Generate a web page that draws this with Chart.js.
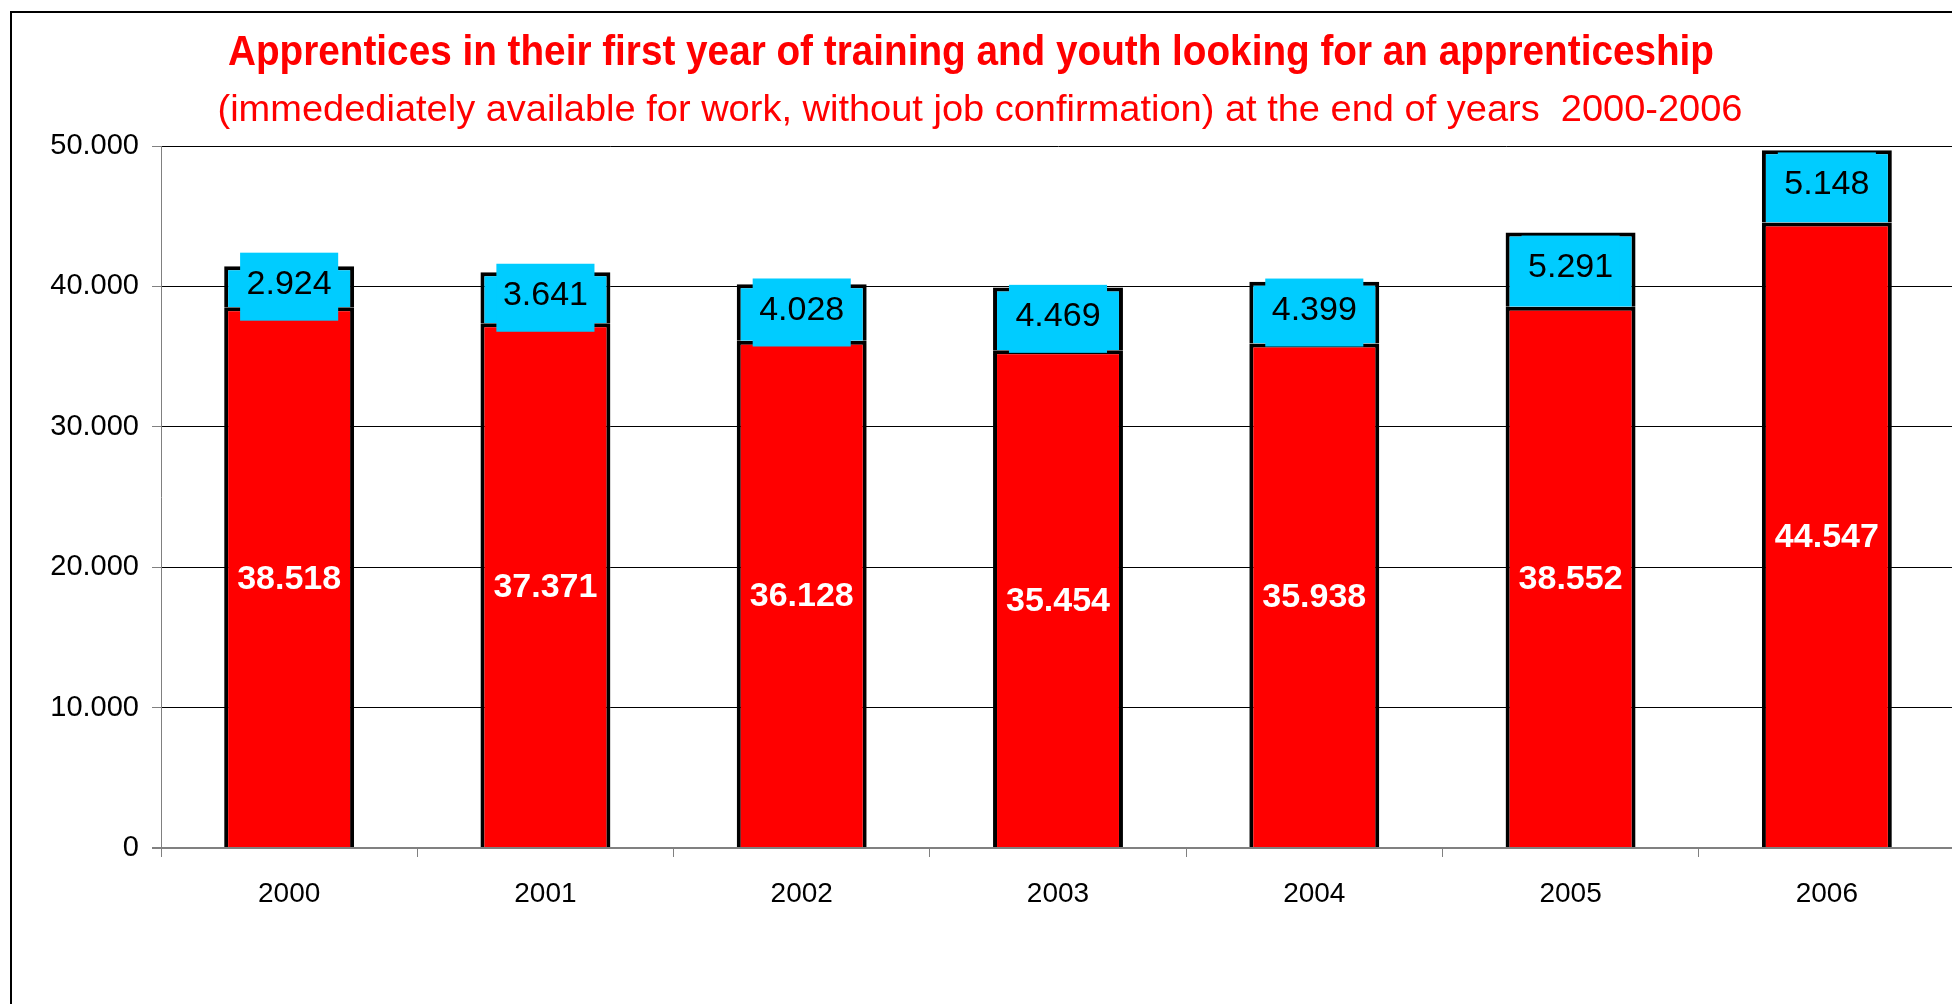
<!DOCTYPE html>
<html lang="en">
<head>
    <meta charset="UTF-8">
    <title>Apprentices 2000-2006</title>
    <script src="https://cdn.jsdelivr.net/npm/chart.js"></script>
    <style>
        html, body { margin: 0; padding: 0; background: #fff; overflow: hidden; }
        #holder { width: 1956px; height: 1004px; }
    </style>
</head>
<body>
    <div id="holder"><canvas id="chart" width="1956" height="1004"></canvas></div>

    <script>
        // Data
        const years = ['2000', '2001', '2002', '2003', '2004', '2005', '2006'];
        const apprentices = [38518, 37371, 36128, 35454, 35938, 38552, 44547]; // first year of training
        const seekers = [2924, 3641, 4028, 4469, 4399, 5291, 5148]; // looking for an apprenticeship
        const yTickLabels = ['0', '10.000', '20.000', '30.000', '40.000', '50.000'];

        const titleText = 'Apprentices in their first year of training and youth looking for an apprenticeship';
        const subtitleText = '(immedediately available for work, without job confirmation) at the end of years  2000-2006';

        const FONT = '"Liberation Sans", Arial, sans-serif';
        Chart.defaults.font.family = FONT;
        Chart.defaults.color = '#000';

        // German style thousands separator
        function fmt(n) {
            return String(n).replace(/\B(?=(\d{3})+(?!\d))/g, '.');
        }

        // the original titles are horizontally squeezed
        function drawSqueezed(c, text, font, cx, baseline, targetWidth) {
            c.save();
            c.font = font;
            const w = c.measureText(text).width;
            c.translate(cx, baseline);
            c.scale(targetWidth / w, 1);
            c.textAlign = 'center';
            c.textBaseline = 'alphabetic';
            c.fillStyle = '#FF0000';
            c.fillText(text, 0, 0);
            c.restore();
        }

        // frame + titles
        const framePlugin = {
            id: 'frame',
            beforeDraw(chart) {
                const c = chart.ctx;
                c.save();
                c.fillStyle = '#fff';
                c.fillRect(0, 0, chart.width, chart.height);
                c.strokeStyle = '#000';
                c.lineWidth = 2;
                c.beginPath();
                c.moveTo(11, chart.height + 5);
                c.lineTo(11, 12);
                c.lineTo(chart.width + 5, 12);
                c.stroke();
                c.restore();
                drawSqueezed(c, titleText, 'bold 43px ' + FONT, 971, 65, 1486);
                drawSqueezed(c, subtitleText, '37px ' + FONT, 980, 121, 1525);
            }
        };

        // values inside the bar segments
        const valueLabels = {
            id: 'valueLabels',
            afterDatasetsDraw(chart) {
                const c = chart.ctx;
                c.save();
                c.textAlign = 'center';
                c.textBaseline = 'alphabetic';
                chart.data.datasets.forEach((ds, di) => {
                    chart.getDatasetMeta(di).data.forEach((bar, i) => {
                        const p = bar.getProps(['x', 'y', 'base'], true);
                        const cy = (p.y + p.base) / 2;
                        const txt = fmt(ds.data[i]);
                        if (di === 1) {
                            c.font = '34px ' + FONT;
                            const w = c.measureText(txt).width + 13;
                            c.fillStyle = '#00CCFF';
                            c.fillRect(p.x - w / 2, cy - 34, w, 68);
                            c.fillStyle = '#000';
                            c.fillText(txt, p.x, cy + 7.5);
                        } else {
                            c.font = 'bold 34px ' + FONT;
                            c.fillStyle = '#fff';
                            c.fillText(txt, p.x, cy + 12);
                        }
                    });
                });
                c.restore();
            }
        };

        const chart = new Chart(document.getElementById('chart'), {
            type: 'bar',
            data: {
                labels: years,
                datasets: [{
                    label: 'Apprentices in first year',
                    data: apprentices,
                    backgroundColor: '#FF0000',
                    borderColor: '#000',
                    borderWidth: 4,
                    borderSkipped: 'start',
                    barPercentage: 0.507,
                    categoryPercentage: 1
                }, {
                    label: 'Youth looking for an apprenticeship',
                    data: seekers,
                    backgroundColor: '#00CCFF',
                    borderColor: '#000',
                    borderWidth: 4,
                    borderSkipped: 'start',
                    barPercentage: 0.507,
                    categoryPercentage: 1
                }]
            },
            options: {
                responsive: false,
                animation: false,
                devicePixelRatio: 1,
                events: [],
                layout: { padding: { top: 146, right: 1, left: 0, bottom: 0 } },
                plugins: {
                    legend: { display: false },
                    tooltip: { enabled: false }
                },
                scales: {
                    x: {
                        stacked: true,
                        ticks: { color: '#000', font: { size: 28 }, padding: 20 },
                        grid: { offset: true, drawOnChartArea: false, drawTicks: true, tickLength: 9, color: '#808080' },
                        border: { color: '#808080', width: 2 },
                        afterFit: s => { s.height = 156; }
                    },
                    y: {
                        stacked: true,
                        min: 0,
                        max: 50000,
                        ticks: {
                            stepSize: 10000,
                            color: '#000',
                            font: { size: 29 },
                            padding: 13,
                            callback: (v, i) => yTickLabels[i]
                        },
                        grid: {
                            color: ctx => ctx.tick && ctx.tick.value === 0 ? '#808080' : '#000',
                            lineWidth: ctx => ctx.tick && ctx.tick.value === 0 ? 2 : 1,
                            tickLength: 9,
                            tickColor: '#808080'
                        },
                        border: { color: '#808080', width: 1 },
                        afterFit: s => { s.width = 161; }
                    }
                }
            },
            plugins: [framePlugin, valueLabels]
        });
    </script>
</body>
</html>
